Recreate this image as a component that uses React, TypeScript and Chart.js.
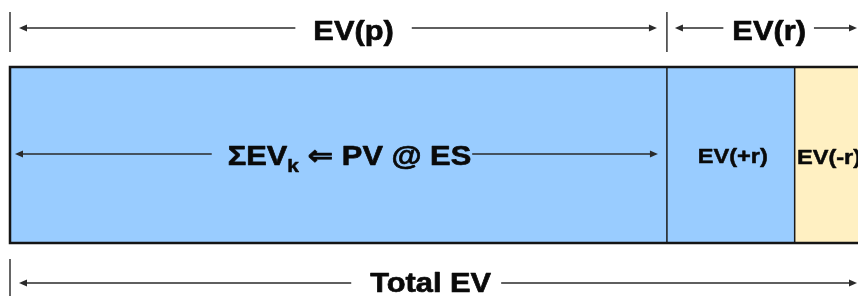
import React, { useEffect, useRef } from "react";
import { Chart, registerables } from "chart.js";

Chart.register(...registerables);

const categories = ["EV"];
const segmentLabels = ["EV(p)", "EV(+r)", "EV(-r)"];
const segmentValues = [58.1, 11.3, 5.9];
const segmentColors = ["#99CCFF", "#99CCFF", "#FFF0C2"];
const axisMax = 75;
const spanLabels = ["EV(p)", "EV(r)", "Total EV"];
const innerFormula = ["ΣEV", "k", " ⇐ PV @ ES"];

const FONT = '"Liberation Sans", Arial, "DejaVu Sans", sans-serif';
const INK = "#0a0a0a";
const LINE = "#2a2a2a";

function drawStretched(ctx: CanvasRenderingContext2D, text: string, cx: number, baseline: number, size: number, sx: number) {
  ctx.save();
  ctx.font = `bold ${size}px ${FONT}`;
  const w = ctx.measureText(text).width * sx;
  ctx.translate(cx - w / 2, baseline);
  ctx.scale(sx, 1);
  ctx.fillStyle = INK;
  ctx.strokeStyle = INK;
  ctx.lineWidth = size > 24 ? 0.7 : 0.5;
  ctx.lineJoin = "round";
  ctx.textBaseline = "alphabetic";
  ctx.fillText(text, 0, 0);
  ctx.strokeText(text, 0, 0);
  ctx.restore();
  return [cx - w / 2, cx + w / 2];
}

function arrowLine(ctx: CanvasRenderingContext2D, from: number, tip: number, y: number) {
  ctx.save();
  ctx.strokeStyle = LINE;
  ctx.fillStyle = LINE;
  ctx.lineWidth = 1.5;
  const dir = tip > from ? 1 : -1;
  ctx.beginPath();
  ctx.moveTo(from, y);
  ctx.lineTo(tip - dir * 6, y);
  ctx.stroke();
  ctx.beginPath();
  ctx.moveTo(tip, y);
  ctx.lineTo(tip - dir * 8, y - 3.5);
  ctx.lineTo(tip - dir * 8, y + 3.5);
  ctx.closePath();
  ctx.fill();
  ctx.restore();
}

function vTick(ctx: CanvasRenderingContext2D, x: number, y1: number, y2: number) {
  ctx.save();
  ctx.strokeStyle = "#333";
  ctx.lineWidth = 1.5;
  ctx.beginPath();
  ctx.moveTo(x, y1);
  ctx.lineTo(x, y2);
  ctx.stroke();
  ctx.restore();
}

const diagramPlugin = {
  id: "diagram",
  afterDraw(chart: any) {
    const ctx: CanvasRenderingContext2D = chart.ctx;
    const xs = chart.scales.x;
    const ca = chart.chartArea;
    const cum: number[] = [0];
    segmentValues.forEach((v, i) => cum.push(cum[i] + v));
    const px = cum.map((v) => xs.getPixelForValue(v));
    const [x0, x1, x2, x3] = px;
    const top = ca.top;
    const bot = ca.bottom;
    const mid = (top + bot) / 2;
    const rightEdge = Math.min(x3, ca.right) - 1;

    // dividers
    ctx.save();
    ctx.strokeStyle = "#1a1a1a";
    ctx.lineWidth = 1.5;
    [x1, x2].forEach((x) => {
      ctx.beginPath();
      ctx.moveTo(x, top);
      ctx.lineTo(x, bot);
      ctx.stroke();
    });
    // outer border
    ctx.lineWidth = 2.5;
    ctx.strokeStyle = "#151515";
    ctx.strokeRect(x0, top, x3 - x0, bot - top);
    ctx.restore();

    const big = 28;
    const sxBig = 1.1;
    const small = 20;
    const sxSmall = 1.18;

    // segment labels
    drawStretched(ctx, segmentLabels[1], (x1 + x2) / 2 + 2, mid + 8, small, sxSmall);
    drawStretched(ctx, segmentLabels[2], (x2 + x3) / 2 + 1, mid + 9, small, sxSmall);

    // formula inside first segment
    ctx.save();
    const sizes = [big, 19, big];
    const dys = [0, 7, 0];
    const widths = innerFormula.map((t, i) => {
      ctx.font = `bold ${sizes[i]}px ${FONT}`;
      return ctx.measureText(t).width * sxBig;
    });
    const total = widths.reduce((a, b) => a + b, 0);
    const fcx = (x0 + x1) / 2 + 11;
    let cur = fcx - total / 2;
    const fBase = mid + 10;
    innerFormula.forEach((t, i) => {
      drawStretched(ctx, t, cur + widths[i] / 2, fBase + dys[i], sizes[i], sxBig);
      cur += widths[i];
    });
    ctx.restore();
    const fLeft = fcx - total / 2;
    const fRight = fcx + total / 2;
    arrowLine(ctx, fLeft - 16, x0 + 5, mid - 1);
    arrowLine(ctx, fRight + 1, x1 - 9, mid - 1);

    // top spans
    const topBase = top - 27;
    const topArrow = top - 39;
    vTick(ctx, x0, top - 55, top - 15);
    vTick(ctx, x1, top - 55, top - 15);
    const [pL, pR] = drawStretched(ctx, spanLabels[0], x0 + (x1 - x0) * 0.523, topBase, big, sxBig);
    arrowLine(ctx, pL - 18, x0 + 9, topArrow);
    arrowLine(ctx, pR + 18, x1 - 10, topArrow);
    const [rL, rR] = drawStretched(ctx, spanLabels[1], (x1 + x3) / 2 + 5, topBase, big, sxBig);
    arrowLine(ctx, rL - 9, x1 + 8, topArrow);
    arrowLine(ctx, rR + 8, rightEdge, topArrow);

    // bottom span
    const botBase = bot + 49;
    const botArrow = bot + 40;
    vTick(ctx, x0, bot + 16, chart.height);
    const [tL, tR] = drawStretched(ctx, spanLabels[2], (x0 + x3) / 2 - 5, botBase, big, sxBig);
    arrowLine(ctx, tL - 19, x0 + 9, botArrow);
    arrowLine(ctx, tR + 10, rightEdge, botArrow);
  },
};

export default function App() {
  const ref = useRef<HTMLCanvasElement>(null);
  useEffect(() => {
    if (!ref.current) return;
    const chart = new Chart(ref.current, {
      type: "bar",
      data: {
        labels: categories,
        datasets: segmentLabels.map((label, i) => ({
          label,
          data: [segmentValues[i]],
          backgroundColor: segmentColors[i],
          borderWidth: 0,
          barPercentage: 1,
          categoryPercentage: 1,
        })),
      },
      options: {
        indexAxis: "y",
        animation: false,
        responsive: true,
        maintainAspectRatio: false,
        layout: { padding: { left: 10, right: 0, top: 67, bottom: 53 } },
        scales: {
          x: { stacked: true, min: 0, max: axisMax, display: false },
          y: { stacked: true, display: false },
        },
        plugins: { legend: { display: false }, tooltip: { enabled: false } },
      },
      plugins: [diagramPlugin],
    });
    return () => chart.destroy();
  }, []);
  return (
    <div style={{ position: "fixed", left: 0, top: 0, width: 858, height: 296, background: "#fff" }}>
      <canvas ref={ref} />
    </div>
  );
}
